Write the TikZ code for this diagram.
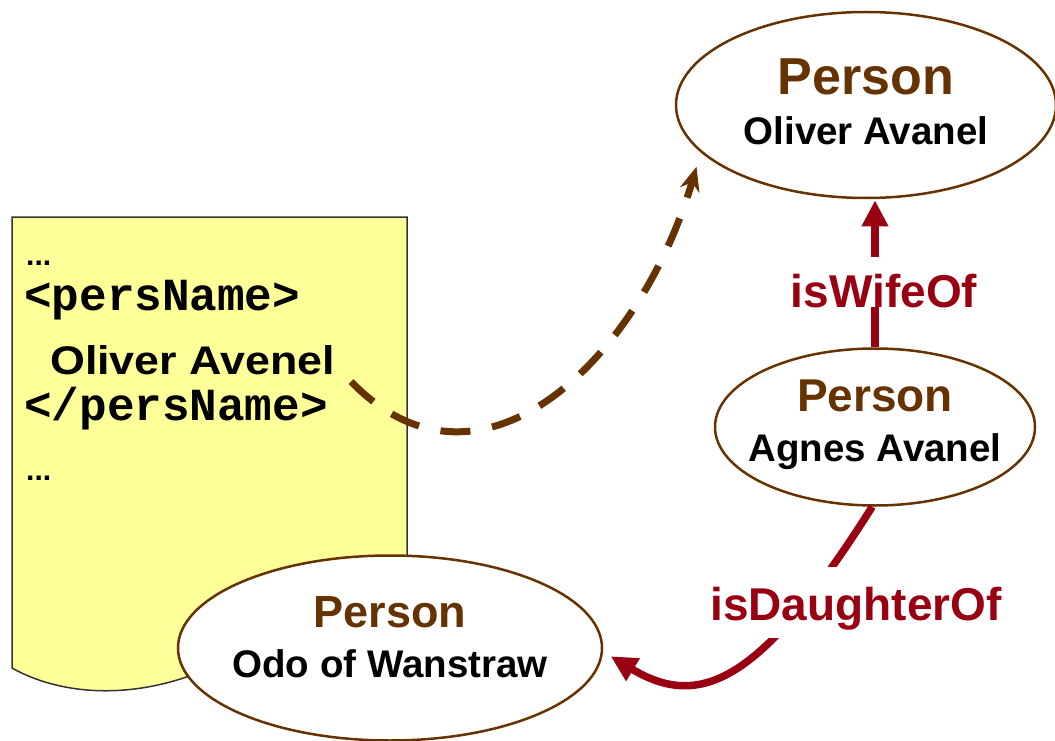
\documentclass[tikz,border=0pt]{standalone}
\usepackage{fontspec}
\setmainfont{Liberation Sans}
\setmonofont{Liberation Mono}
\newfontfamily\widesans[FakeStretch=1.12]{Liberation Sans}
\definecolor{Brown}{HTML}{663300}
\definecolor{RelRed}{HTML}{990012}
\definecolor{DocYellow}{HTML}{FFFF99}
\definecolor{DocEdge}{HTML}{333333}
\usetikzlibrary{arrows.meta,shapes.geometric}
\tikzset{
  docshape/.style={
    draw=DocEdge,
    fill=DocYellow,
    line width=1.5pt
  },
  doctext/.style={
    anchor=base west,
    inner sep=0pt
  },
  personnode/.style={
    ellipse,
    draw=Brown,
    fill=white,
    line width=2.5pt,
    inner xsep=-60pt,
    inner ysep=0pt,
    align=center,
    font=\bfseries\fontsize{38.5}{50}\selectfont
  },
  rellabel/.style={
    fill=white,
    text=RelRed,
    inner xsep=9pt,
    inner ysep=0pt,
    font=\bfseries\fontsize{46}{50}\selectfont
  },
  relarrow/.style={
    -{Triangle[length=26pt,width=25pt]},
    line width=7.5pt,
    draw=RelRed
  },
  linkarrow/.style={
    -{Stealth[length=24pt,width=20pt]},
    line width=7pt,
    draw=Brown,
    dash pattern=on 30pt off 22pt
  }
}
\newcommand{\personlabel}[3]{{\color{Brown}\fontsize{#1}{50}\selectfont Person}\\#2\rule[-#3]{0pt}{#3}}

\begin{document}
\begin{tikzpicture}[x=1pt,y=-1pt]
\useasboundingbox (0,0) rectangle (1055,741);
% the encoded page
\draw[docshape] (12,217) -- (407,217) -- (407,620)
  .. controls (300,610) and (260,650) .. (200,672)
  .. controls (130,700) and (60,695) .. (12,668) -- cycle;
\node[doctext, font=\bfseries\fontsize{30}{30}\selectfont] (dotsA) at (26,265) {...};
\node[doctext, font=\ttfamily\bfseries\fontsize{46}{50}\selectfont] (opentag) at (24,310) {<persName>};
\node[doctext, font=\widesans\bfseries\fontsize{40}{50}\selectfont] (docname) at (50,374) {Oliver Avenel};
\node[doctext, font=\ttfamily\bfseries\fontsize{46}{50}\selectfont] (closetag) at (24,420) {</persName>};
\node[doctext, font=\bfseries\fontsize{30}{30}\selectfont] (dotsB) at (26,480) {...};
% persons
\node[personnode, minimum width=380pt, minimum height=186pt] (oliver) at (866,105) {\personlabel{52pt}{Oliver Avanel}{7pt}};
\node[personnode, minimum width=320pt, minimum height=157pt] (agnes) at (875,427) {\personlabel{46pt}{Agnes Avanel}{13pt}};
\node[personnode, minimum width=424pt, minimum height=185pt] (odo) at (390,648) {\personlabel{45pt}{Odo of Wanstraw}{22pt}};
% links
\draw[linkarrow, shorten >=15pt] ([shift={(16pt,-7pt)}]docname.south east)
  .. controls (480,515) and (640,360) .. (oliver.196);
\draw[relarrow, shorten >=1pt] (agnes.north) -- (agnes.north |- oliver.south)
  node[rellabel, pos=0.27, anchor=base, xshift=9pt, text height=50pt, text depth=0pt] {isWifeOf};
\draw[relarrow, shorten >=9pt] (agnes.268) .. controls (761,683) and (700,710) .. (odo.-1);
\node[rellabel, anchor=base, text height=53pt, text depth=18pt] (daughterlabel) at (856,620) {isDaughterOf};
\end{tikzpicture}
\end{document}
